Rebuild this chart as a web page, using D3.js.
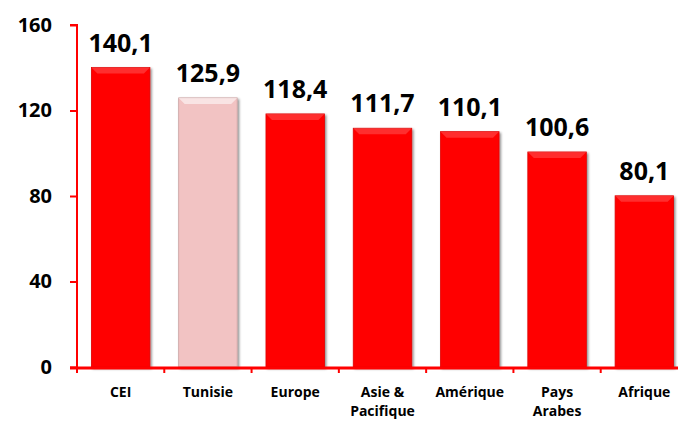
<!DOCTYPE html>
<html>
<head>
<meta charset="utf-8">
<script src="https://cdn.jsdelivr.net/npm/d3@7"></script>
<style>
  body { margin: 0; background: #fff; }
</style>
</head>
<body>
<div id="chart"></div>
<script>
const categories = ["CEI", "Tunisie", "Europe", "Asie & Pacifique", "Amérique", "Pays Arabes", "Afrique"];
const values = [140.1, 125.9, 118.4, 111.7, 110.1, 100.6, 80.1];
const yTicks = [0, 40, 80, 120, 160];

const width = 678, height = 421;
const margin = { top: 25, right: -10, bottom: 54, left: 77 };
const innerW = width - margin.left - margin.right;
const innerH = height - margin.top - margin.bottom;

const svg = d3.select("#chart").append("svg")
    .attr("width", width)
    .attr("height", height);

const defs = svg.append("defs");
// soft drop shadow for the bars
const f = defs.append("filter").attr("id", "shadow").attr("x", "-20%").attr("y", "-20%").attr("width", "140%").attr("height", "140%");
f.append("feDropShadow").attr("dx", 1.5).attr("dy", 1.5).attr("stdDeviation", 1.2).attr("flood-color", "#000").attr("flood-opacity", 0.45);

const g = svg.append("g").attr("transform", `translate(${margin.left},${margin.top})`);

const x = d3.scaleBand().domain(categories).range([0, innerW]).paddingInner(0.33).paddingOuter(0.165);
const y = d3.scaleLinear().domain([0, 160]).range([innerH, 0]);

const fontFam = "'Open Sans', 'DejaVu Sans', sans-serif";

// bars
const bars = g.selectAll(".bar").data(categories).enter().append("g").attr("class", "bar");
bars.append("rect")
    .attr("x", d => x(d))
    .attr("y", (d, i) => y(values[i]))
    .attr("width", x.bandwidth())
    .attr("height", (d, i) => y(0) - y(values[i]))
    .attr("fill", d => d === "Tunisie" ? "#f2c3c3" : "#ff0000")
    .attr("stroke", d => d === "Tunisie" ? "#c9a0a0" : "#e00000")
    .attr("stroke-width", 0.8)
    .attr("filter", "url(#shadow)");
// bevel highlight on top edge
bars.append("path")
    .attr("d", (d, i) => {
        const x0 = x(d), x1 = x0 + x.bandwidth(), y0 = y(values[i]), b = 6;
        return `M${x0},${y0}L${x1},${y0}L${x1 - b},${y0 + b}L${x0 + b},${y0 + b}Z`;
    })
    .attr("fill", "#fff")
    .attr("opacity", d => d === "Tunisie" ? 0.55 : 0.18);

// value labels
g.selectAll(".val").data(categories).enter().append("text")
    .attr("x", d => x(d) + x.bandwidth() / 2)
    .attr("y", (d, i) => y(values[i]) - 16)
    .attr("text-anchor", "middle")
    .attr("font-family", fontFam)
    .attr("font-weight", "bold")
    .attr("font-size", 25)
    .attr("fill", "#000")
    .text((d, i) => values[i].toFixed(1).replace(".", ","));

// y axis
const yAxis = g.append("g")
    .call(d3.axisLeft(y).tickValues(yTicks).tickSize(7).tickPadding(18));
yAxis.select(".domain").attr("stroke", "#ff0000").attr("stroke-width", 2).attr("d", `M-7,0H0V${innerH}`);
yAxis.selectAll(".tick line").attr("stroke", "#ff0000").attr("stroke-width", 2);
yAxis.selectAll(".tick text")
    .attr("font-family", fontFam)
    .attr("font-weight", "bold")
    .attr("font-size", 20)
    .attr("fill", "#000");

// x axis
const xAxis = g.append("g")
    .attr("transform", `translate(0,${innerH + 1})`)
    .call(d3.axisBottom(x).tickSize(0).tickFormat(""));
xAxis.select(".domain").attr("stroke", "#ff0000").attr("stroke-width", 3).attr("d", `M-7,0H${innerW}`);
// boundary tick marks between categories
const step = x.step();
const bounds = d3.range(categories.length + 1).map(i => i * step);
xAxis.selectAll(".btick").data(bounds).enter().append("line")
    .attr("x1", d => d).attr("x2", d => d)
    .attr("y1", 0).attr("y2", 5)
    .attr("stroke", "#ff0000").attr("stroke-width", 2);

// category labels, wrapped like the original
const lines = { "Asie & Pacifique": ["Asie &", "Pacifique"], "Pays Arabes": ["Pays", "Arabes"] };
categories.forEach(c => {
    const t = g.append("text")
        .attr("x", x(c) + x.bandwidth() / 2)
        .attr("y", innerH + 30)
        .attr("text-anchor", "middle")
        .attr("font-family", fontFam)
        .attr("font-weight", "bold")
        .attr("font-size", 14)
        .attr("fill", "#000");
    (lines[c] || [c]).forEach((l, k) => {
        t.append("tspan").attr("x", x(c) + x.bandwidth() / 2).attr("dy", k === 0 ? 0 : 19).text(l);
    });
});
</script>
</body>
</html>
